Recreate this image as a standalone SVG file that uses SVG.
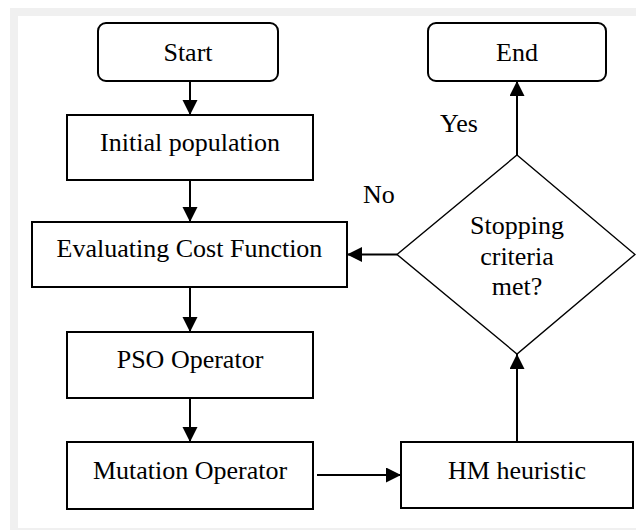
<svg xmlns="http://www.w3.org/2000/svg" width="636" height="530" viewBox="0 0 636 530">
<style>
.box{fill:#fff;stroke:#000;stroke-width:2}
.dia{fill:#fff;stroke:#000;stroke-width:1.4}
text{font-family:'Liberation Serif','Times New Roman','DejaVu Serif',serif;font-size:26px;fill:#000}
.t{text-anchor:middle}
.c{stroke:#000;stroke-width:2;fill:none;marker-end:url(#ah)}
</style>
<defs>
<marker id="ah" markerUnits="userSpaceOnUse" markerWidth="16" markerHeight="16" viewBox="0 0 16 16" refX="15" refY="7.5" orient="auto">
<path d="M0,0 L15,7.5 L0,15 z" fill="#000"/>
</marker>
</defs>
<rect x="0" y="0" width="636" height="530" fill="#fff"/>
<rect x="10" y="8" width="626" height="522" fill="#f0f0f0"/>
<rect x="18" y="16" width="618" height="512" fill="#fff"/>
<g id="start"><rect class="box" x="98" y="23" width="180" height="58" rx="8"/><text class="t" x="188" y="61" font-family="Liberation Serif, serif">Start</text></g>
<g id="init"><rect class="box" x="67" y="115" width="246" height="65"/><text class="t" x="190" y="151" font-family="Liberation Serif, serif">Initial population</text></g>
<g id="eval"><rect class="box" x="32" y="222" width="315" height="65"/><text class="t" x="189.5" y="257" font-family="Liberation Serif, serif">Evaluating Cost Function</text></g>
<g id="pso"><rect class="box" x="67" y="332" width="246" height="66"/><text class="t" x="190" y="368" font-family="Liberation Serif, serif">PSO Operator</text></g>
<g id="mut"><rect class="box" x="67" y="442" width="246" height="67"/><text class="t" x="190" y="479" font-family="Liberation Serif, serif">Mutation Operator</text></g>
<g id="hm"><rect class="box" x="401" y="442" width="232" height="66"/><text class="t" x="517" y="479" font-family="Liberation Serif, serif">HM heuristic</text></g>
<g id="stop"><path class="dia" d="M517,155 L635,254.5 L517,354 L397,254.5 Z"/><text class="t" x="517" y="234" font-family="Liberation Serif, serif">Stopping</text><text class="t" x="517" y="265" font-family="Liberation Serif, serif">criteria</text><text class="t" x="517" y="295" font-family="Liberation Serif, serif">met?</text></g>
<g id="end"><rect class="box" x="428" y="23" width="178" height="58" rx="8"/><text class="t" x="517" y="61" font-family="Liberation Serif, serif">End</text></g>
<g id="connectors">
<line class="c" x1="190" y1="81" x2="190" y2="115"/>
<line class="c" x1="190" y1="180" x2="190" y2="222"/>
<line class="c" x1="190" y1="287" x2="190" y2="332"/>
<line class="c" x1="190" y1="398" x2="190" y2="442"/>
<line class="c" x1="317" y1="475" x2="401" y2="475"/>
<line class="c" x1="517" y1="442" x2="517" y2="354"/>
<line class="c" x1="517" y1="155" x2="517" y2="81"/>
<line class="c" x1="397" y1="254.5" x2="347" y2="254.5"/>
<text x="440" y="132" font-family="Liberation Serif, serif">Yes</text>
<text x="363" y="203" font-family="Liberation Serif, serif">No</text>
</g>
</svg>
